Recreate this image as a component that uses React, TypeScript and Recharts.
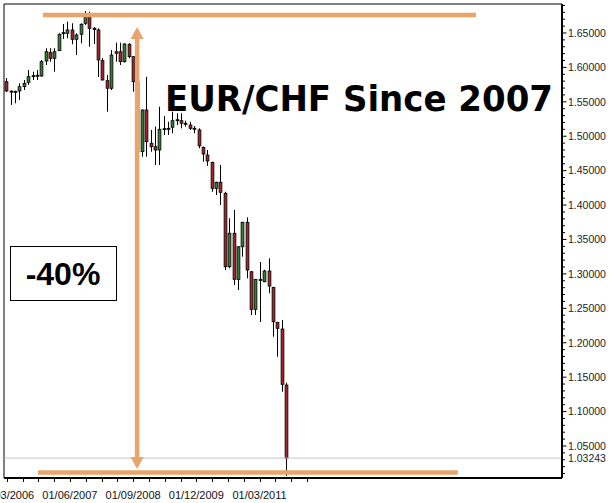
import React from 'react';
import { ComposedChart, Bar, XAxis, YAxis, ReferenceLine, ReferenceDot } from 'recharts';

// Monthly EUR/CHF candles (index 0 = first visible month)
const openVals = [
  1.5792, 1.5657, 1.5640, 1.5657, 1.5720, 1.5784, 1.5872, 1.5880, 1.5875, 1.6093,
  1.6214, 1.6132, 1.6243, 1.6490, 1.6496, 1.6544, 1.6408, 1.6481, 1.6641, 1.6737,
  1.6568, 1.6544, 1.6098, 1.5807, 1.5697, 1.6228, 1.6228, 1.6083, 1.6336, 1.6156,
  1.5792, 1.4776, 1.5381, 1.4897, 1.4848, 1.4800, 1.5100, 1.5110, 1.5130, 1.5226,
  1.5226, 1.5188, 1.5163, 1.5115, 1.5091, 1.4839, 1.4727, 1.4621, 1.4243, 1.4331,
  1.4171, 1.3104, 1.3590, 1.2921, 1.3395, 1.3750, 1.3032, 1.2485, 1.2921, 1.2886,
  1.3042, 1.2805, 1.2297, 1.2199, 1.1385,
];
const highVals = [
  1.5846, 1.5662, 1.5662, 1.5769, 1.5817, 1.5962, 1.5938, 1.5962, 1.6108, 1.6278,
  1.6278, 1.6278, 1.6496, 1.6631, 1.6664, 1.6641, 1.6496, 1.6641, 1.6820, 1.6809,
  1.6587, 1.6568, 1.6137, 1.5890, 1.6253, 1.6359, 1.6359, 1.6350, 1.6350, 1.6160,
  1.5800, 1.5390, 1.5865, 1.5091, 1.5139, 1.5429, 1.5294, 1.5210, 1.5357, 1.5333,
  1.5333, 1.5226, 1.5210, 1.5149, 1.5115, 1.4850, 1.4800, 1.4630, 1.4339, 1.4582,
  1.4194, 1.3808, 1.3928, 1.3400, 1.3755, 1.3822, 1.3036, 1.2925, 1.3173, 1.3060,
  1.3227, 1.2810, 1.2300, 1.2330, 1.1419,
];
const lowVals = [
  1.5643, 1.5454, 1.5479, 1.5527, 1.5672, 1.5744, 1.5817, 1.5817, 1.5865, 1.6035,
  1.6083, 1.5938, 1.6238, 1.6413, 1.6423, 1.6336, 1.6180, 1.6350, 1.6616, 1.6301,
  1.6340, 1.5860, 1.5810, 1.5357, 1.5672, 1.6083, 1.6035, 1.6070, 1.6132, 1.5647,
  1.4720, 1.4703, 1.4703, 1.4775, 1.4582, 1.4582, 1.5018, 1.5018, 1.5043, 1.5163,
  1.5115, 1.5139, 1.5091, 1.5043, 1.4825, 1.4630, 1.4568, 1.4194, 1.4146, 1.4001,
  1.3056, 1.3081, 1.2838, 1.2766, 1.3250, 1.2936, 1.2403, 1.2403, 1.2301, 1.2880,
  1.2718, 1.2087, 1.1797, 1.1288, 1.0063,
];
const closeVals = [
  1.5657, 1.5640, 1.5652, 1.5720, 1.5769, 1.5865, 1.5880, 1.5886, 1.6083, 1.6228,
  1.6132, 1.6228, 1.6481, 1.6505, 1.6544, 1.6408, 1.6471, 1.6626, 1.6737, 1.6568,
  1.6551, 1.6108, 1.5817, 1.5697, 1.6180, 1.6205, 1.6083, 1.6340, 1.6156, 1.5792,
  1.4776, 1.5381, 1.4921, 1.4848, 1.4800, 1.5101, 1.5110, 1.5115, 1.5226, 1.5240,
  1.5188, 1.5180, 1.5115, 1.5101, 1.4860, 1.4742, 1.4640, 1.4243, 1.4331, 1.4185,
  1.3104, 1.3590, 1.2921, 1.3395, 1.3750, 1.3056, 1.2485, 1.2921, 1.2905, 1.3042,
  1.2824, 1.2305, 1.2209, 1.1396, 1.0324,
];

const xTickVals = [
  0.16, 3.78, 7.39, 11.01, 14.62, 18.24, 21.86, 25.47, 29.09, 32.7,
  36.32, 39.94, 43.55, 47.17, 50.78, 54.4, 58.02, 61.63, 65.25, 68.86,
];
const xTickLabels = [
  '01/03/2006', '', '', '', '01/06/2007', '', '', '', '01/09/2008', '',
  '', '', '01/12/2009', '', '', '', '01/03/2011', '', '', '',
];

const yMajorTicks = [1.05, 1.1, 1.15, 1.2, 1.25, 1.3, 1.35, 1.4, 1.45, 1.5, 1.55, 1.6, 1.65];
const yMinorTicks = [
  1.01, 1.02, 1.03, 1.04, 1.06, 1.07, 1.08, 1.09, 1.11, 1.12, 1.13, 1.14,
  1.16, 1.17, 1.18, 1.19, 1.21, 1.22, 1.23, 1.24, 1.26, 1.27, 1.28, 1.29,
  1.31, 1.32, 1.33, 1.34, 1.36, 1.37, 1.38, 1.39, 1.41, 1.42, 1.43, 1.44,
  1.46, 1.47, 1.48, 1.49, 1.51, 1.52, 1.53, 1.54, 1.56, 1.57, 1.58, 1.59,
  1.61, 1.62, 1.63, 1.64, 1.66, 1.67, 1.68, 1.69,
];
const lastPrice = 1.03243;

// annotation anchors (data space)
const X_MIN = -0.4577;
const X_MAX = 127.23;
const Y_MIN = 1.0035;
const Y_MAX = 1.6921;
const topLine = { x1: 8.47, x2: 107.55, y: 1.6761 };
const bottomLine = { x1: 7.32, x2: 103.4, y: 1.0114 };
const arrow = { x: 30, tipTop: 1.6587, baseTop: 1.6413, tipBottom: 1.0165, baseBottom: 1.0339 };

const data = openVals.map((o, i) => ({
  i,
  o,
  h: highVals[i],
  l: lowVals[i],
  c: closeVals[i],
  range: [lowVals[i], highVals[i]],
}));

const GREEN = '#3b7b39';
const RED = '#a3262b';
const ORANGE = '#e8a46c';
const FONT = '"Liberation Sans", Arial, sans-serif';

const Candle = (props: any) => {
  const { x, y, width, height, payload } = props;
  if (height == null || !payload) return null;
  const { o, h, l, c } = payload;
  const k = height / (h - l);
  const cx = Math.round(x + width / 2) + 0.5;
  const yO = y + (h - o) * k;
  const yC = y + (h - c) * k;
  const top = Math.min(yO, yC);
  const bh = Math.max(Math.abs(yO - yC), 1);
  const up = c >= o;
  return (
    <g>
      <line x1={cx} x2={cx} y1={y} y2={y + height} stroke="#000" strokeWidth={1} />
      <rect x={cx - 1.4} y={top} width={2.8} height={bh} fill={up ? GREEN : RED} stroke="#000" strokeWidth={0.8} />
    </g>
  );
};

const YTick = (props: any) => {
  const { x, y, payload } = props;
  const v = payload.value;
  const isLast = Math.abs(v - lastPrice) < 1e-7;
  const isMajor = yMajorTicks.some((m) => Math.abs(m - v) < 1e-7);
  if (isLast) {
    return (
      <text x={x + 6} y={y + 3.8} fontSize={10.5} fill="#222" fontFamily={FONT}>
        {lastPrice.toFixed(5)}
      </text>
    );
  }
  return (
    <g>
      <line x1={x} x2={x + (isMajor ? 4.5 : 3)} y1={y} y2={y} stroke="#000" strokeWidth={1} />
      {isMajor && (
        <text x={x + 6} y={y + 3.8} fontSize={10.5} fill="#222" fontFamily={FONT}>
          {v.toFixed(5)}
        </text>
      )}
    </g>
  );
};

const XTick = (props: any) => {
  const { x, y, payload } = props;
  const idx = xTickVals.findIndex((t) => Math.abs(t - payload.value) < 1e-7);
  const label = idx >= 0 ? xTickLabels[idx] : '';
  const px = Math.round(x) + 0.5;
  return (
    <g>
      <line x1={px} x2={px} y1={y + 1} y2={y + 4} stroke="#000" strokeWidth={1} />
      {label && (
        <text x={x} y={y + 21} textAnchor="middle" fontSize={11} fill="#111" fontFamily={FONT}>
          {label}
        </text>
      )}
    </g>
  );
};

const ArrowUp = (props: any) => {
  const { cx, cy } = props;
  return <path d={`M${cx},${cy} L${cx - 6.5},${cy + 12} L${cx + 6.5},${cy + 12} Z`} fill={ORANGE} />;
};
const ArrowDown = (props: any) => {
  const { cx, cy } = props;
  return <path d={`M${cx},${cy} L${cx - 6.5},${cy - 12} L${cx + 6.5},${cy - 12} Z`} fill={ORANGE} />;
};

export default function App() {
  const yTicks = [...yMinorTicks, ...yMajorTicks, lastPrice].sort((a, b) => a - b);
  return (
    <div style={{ position: 'absolute', left: 0, top: 0, width: 610, height: 503, background: '#fff' }}>
      <ComposedChart width={610} height={503} data={data} margin={{ top: 4, right: 0, bottom: 0, left: 4 }}>
        <XAxis
          type="number"
          dataKey="i"
          domain={[X_MIN, X_MAX]}
          allowDataOverflow
          ticks={xTickVals}
          interval={0}
          tickSize={0}
          tickMargin={0}
          tickLine={false}
          axisLine={{ stroke: '#000', strokeWidth: 2 }}
          tick={XTick}
          height={25}
        />
        <YAxis
          type="number"
          orientation="right"
          domain={[Y_MIN, Y_MAX]}
          allowDataOverflow
          ticks={yTicks}
          interval={0}
          tickSize={0}
          tickMargin={0}
          tickLine={false}
          axisLine={{ stroke: '#000', strokeWidth: 2 }}
          tick={YTick}
          width={48}
        />
        <ReferenceLine x={X_MIN} stroke="#000" strokeWidth={1} />
        <ReferenceLine y={Y_MAX} stroke="#000" strokeWidth={1} />
        <ReferenceLine y={lastPrice} stroke="#c4c4c4" strokeWidth={1} />
        <Bar dataKey="range" barSize={3} shape={Candle} isAnimationActive={false} />
        <ReferenceLine
          segment={[{ x: topLine.x1, y: topLine.y }, { x: topLine.x2, y: topLine.y }]}
          stroke={ORANGE}
          strokeWidth={4.5}
        />
        <ReferenceLine
          segment={[{ x: bottomLine.x1, y: bottomLine.y }, { x: bottomLine.x2, y: bottomLine.y }]}
          stroke={ORANGE}
          strokeWidth={4.5}
        />
        <ReferenceLine
          segment={[{ x: arrow.x, y: arrow.baseTop }, { x: arrow.x, y: arrow.baseBottom }]}
          stroke={ORANGE}
          strokeWidth={4.5}
        />
        <ReferenceDot x={arrow.x} y={arrow.tipTop} shape={ArrowUp} />
        <ReferenceDot x={arrow.x} y={arrow.tipBottom} shape={ArrowDown} />
      </ComposedChart>
      <svg width={610} height={503} style={{ position: 'absolute', left: 0, top: 0, pointerEvents: 'none' }}>
        <text
          x={165}
          y={111}
          fontFamily='"DejaVu Sans", Verdana, sans-serif'
          fontWeight="bold"
          fontSize={35}
          textLength={388}
          lengthAdjust="spacingAndGlyphs"
          fill="#000"
        >
          EUR/CHF Since 2007
        </text>
        <rect x={10.5} y={246.5} width={106} height={54} fill="#fff" stroke="#000" strokeWidth={1} />
        <text x={63} y={285} textAnchor="middle" fontFamily={FONT} fontWeight="bold" fontSize={32} fill="#000">
          -40%
        </text>
      </svg>
    </div>
  );
}
